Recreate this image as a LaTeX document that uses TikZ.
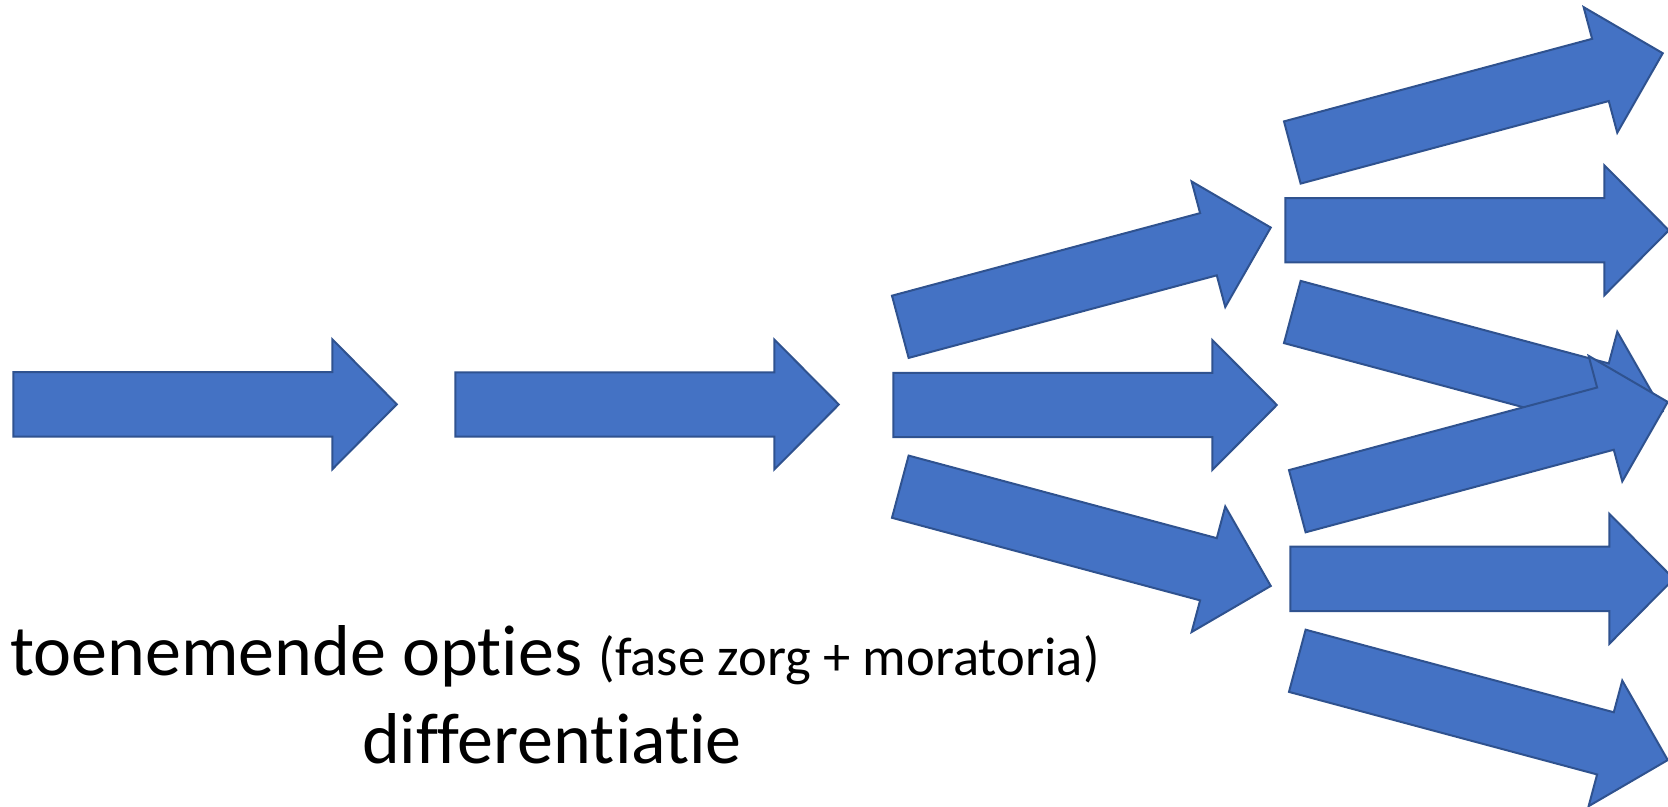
\documentclass[tikz,border=0pt]{standalone}
\usepackage{fontspec}
\setmainfont{Carlito}[Ligatures=NoCommon]
\definecolor{ofblue}{HTML}{4472C4}
\definecolor{ofedge}{HTML}{2F528F}
\begin{document}
\begin{tikzpicture}[x=0.5pt,y=-0.5pt,
  arrowfill/.style={fill=ofblue, draw=ofedge, line width=1pt, line join=miter},
  fatarrow/.pic={
    \path[arrowfill] (0,-32.2) -- (319,-32.2) -- (319,-65) -- (383.5,0)
      -- (319,65) -- (319,32.2) -- (0,32.2) -- cycle;
    \coordinate (-tail) at (0,0);
    \coordinate (-tip) at (383.5,0);
  },
  bigtext/.style={font=\fontsize{36}{42}\selectfont, inner sep=0pt, anchor=base}]
\useasboundingbox (0,0) rectangle (1668,807);
\clip (0,0) rectangle (1668,807);
% first stages
\pic (a1) at (13.3,404.3) {fatarrow};
\pic (a2) at (455.3,404.5) {fatarrow};
% first split
\pic[rotate=15] (b1) at (900.3,326.8) {fatarrow};
\pic (b2) at (893.3,405) {fatarrow};
\pic[rotate=-15] (b3) at (900.3,486.7) {fatarrow};
% upper right group
\pic[rotate=15] (c1) at (1292.3,152.5) {fatarrow};
\pic (c2) at (1285.3,230.3) {fatarrow};
\pic[rotate=-15] (c3) at (1292.3,312) {fatarrow};
% lower right group
\pic[rotate=15] (d1) at (1297.3,501.2) {fatarrow};
\pic (d2) at (1290.3,578.8) {fatarrow};
\pic[rotate=-15] (d3) at (1297.3,660.8) {fatarrow};
% labels
\node[bigtext] (t1) at (555,675.5) {toenemende opties {\fontsize{27.3}{32}\selectfont(fase zorg + moratoria)}};
\node[bigtext] (t2) at (552,763) {differentiatie};
\end{tikzpicture}
\end{document}
